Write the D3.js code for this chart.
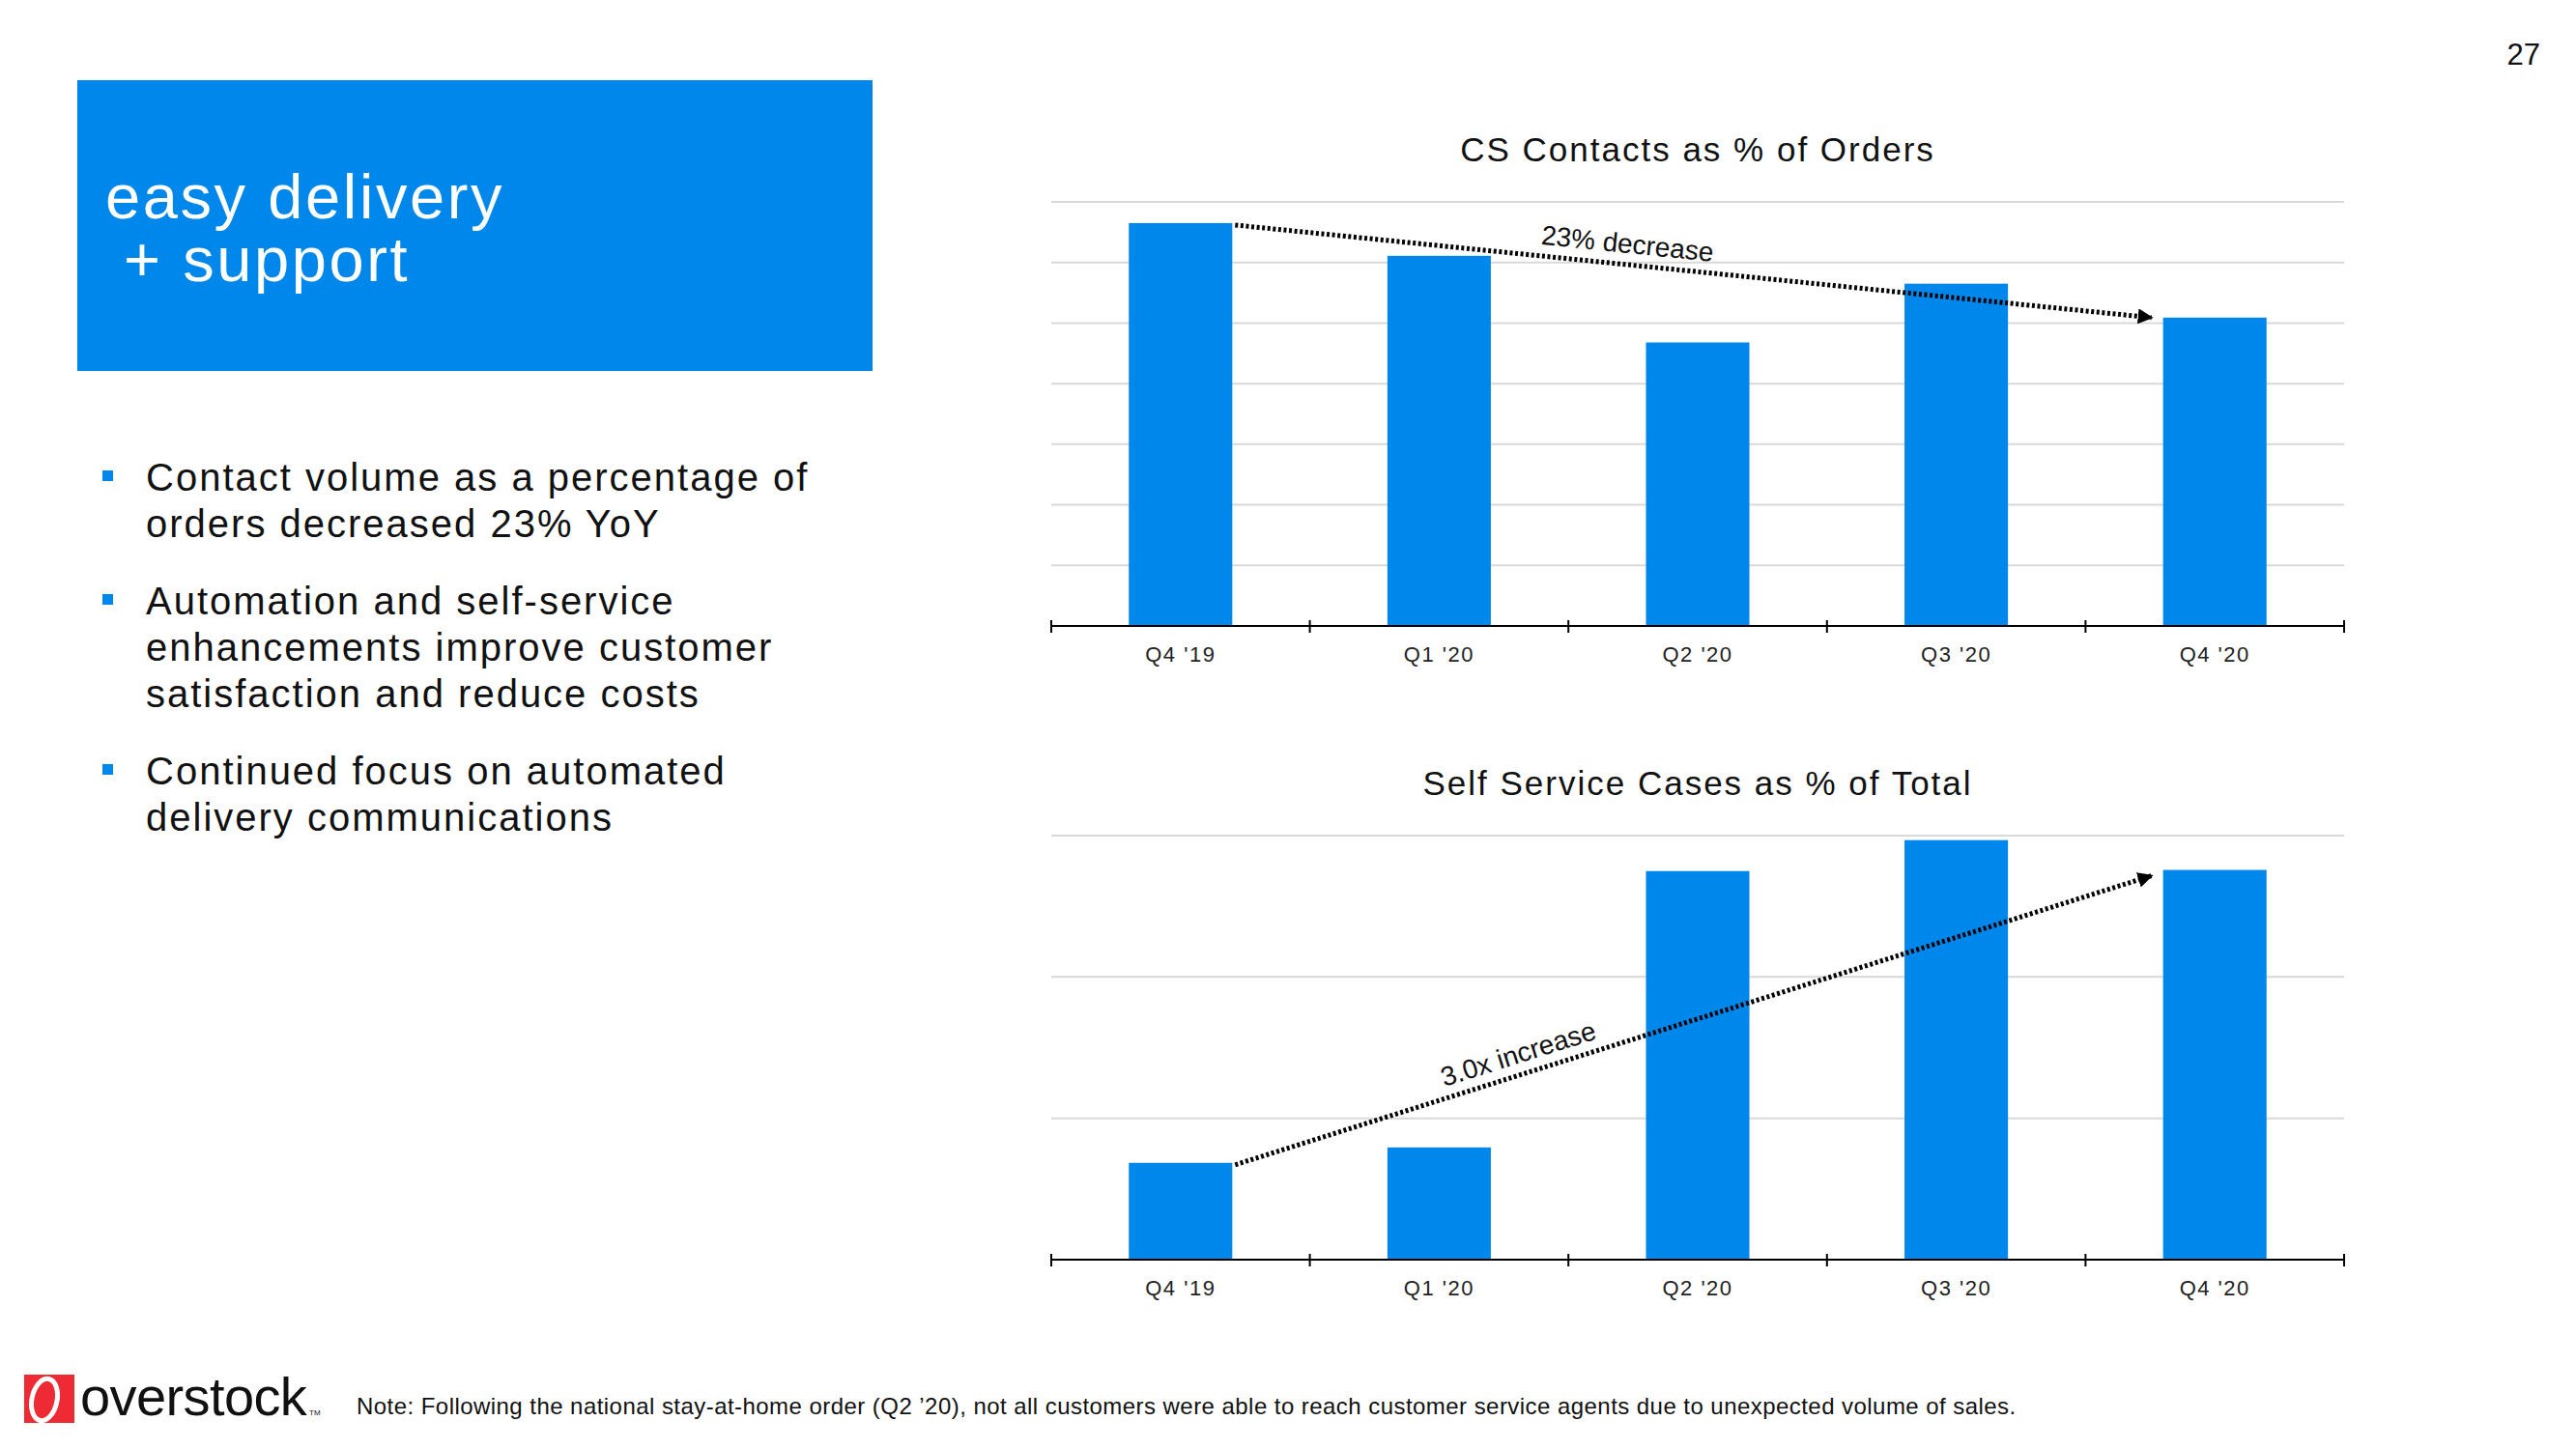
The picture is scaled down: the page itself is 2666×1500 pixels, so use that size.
<!DOCTYPE html>
<html><head><meta charset="utf-8">
<script src="https://cdn.jsdelivr.net/npm/d3@7"></script>
<style>
body{margin:0;background:#fff}
svg{display:block}
text{font-family:"Liberation Sans",Arial,Helvetica,sans-serif}
</style>
</head><body>
<svg id="c" width="2666" height="1500"></svg>
<script>
// ---- data ----
const categories = ["Q4 '19", "Q1 '20", "Q2 '20", "Q3 '20", "Q4 '20"];
const csContacts = [6.65, 6.11, 4.68, 5.65, 5.09];
const selfService = [0.685, 0.794, 2.749, 2.968, 2.757];
const csGridTicks = [1, 2, 3, 4, 5, 6, 7];
const ssGridTicks = [1, 2, 3];
const csTitle = "CS Contacts as % of Orders";
const ssTitle = "Self Service Cases as % of Total";
const csArrowLabel = "23% decrease";
const ssArrowLabel = "3.0x increase";
const headline = ["easy delivery", "+ support"];
const bullets = [
  ["Contact volume as a percentage of", "orders decreased 23% YoY"],
  ["Automation and self-service", "enhancements improve customer", "satisfaction and reduce costs"],
  ["Continued focus on automated", "delivery communications"]
];
const note = "Note: Following the national stay-at-home order (Q2 \u201920), not all customers were able to reach customer service agents due to unexpected volume of sales.";
const pageNumber = "27";
const logoText = "overstock";

// ---- styles ----
const BLUE = "#0087EB";
const svg = d3.select("#c");

// page number
svg.append("text").attr("x", 2629).attr("y", 67).attr("text-anchor", "end")
  .attr("font-size", 31).attr("fill", "#111").text(pageNumber);

// headline box
svg.append("rect").attr("x", 80).attr("y", 83).attr("width", 823).attr("height", 301).attr("fill", BLUE);
const ht = svg.append("text").attr("font-size", 65).attr("letter-spacing", 2.6).attr("fill", "#fff");
ht.append("tspan").attr("x", 109).attr("y", 226).text(headline[0]);
ht.append("tspan").attr("x", 128).attr("y", 291).text(headline[1]);

// bullets
let by = 508;
bullets.forEach(lines => {
  svg.append("rect").attr("x", 106).attr("y", by - 21).attr("width", 11).attr("height", 11).attr("fill", BLUE);
  const t = svg.append("text").attr("font-size", 40).attr("letter-spacing", 2).attr("fill", "#111");
  lines.forEach((ln, i) => {
    t.append("tspan").attr("x", 151).attr("y", by + i * 48).text(ln);
  });
  by += (lines.length - 1) * 48 + 80;
});

// ---- charts ----
const xLeft = 1088, xRight = 2426;
const x = d3.scaleBand().domain(categories).range([xLeft, xRight]).paddingInner(0.6).paddingOuter(0.3);

function drawChart(cfg) {
  const g = svg.append("g");
  const y = d3.scaleLinear().domain(cfg.domain).range([cfg.bottom, cfg.top]);
  // title
  g.append("text").attr("x", (xLeft + xRight) / 2).attr("y", cfg.titleY).attr("text-anchor", "middle")
    .attr("font-size", 35).attr("letter-spacing", 2).attr("fill", "#111").text(cfg.title);
  // gridlines
  g.selectAll("line.grid").data(cfg.grid).join("line").attr("class", "grid")
    .attr("x1", xLeft).attr("x2", xRight).attr("y1", d => y(d)).attr("y2", d => y(d))
    .attr("stroke", "#d9d9d9").attr("stroke-width", 2);
  // bars
  g.selectAll("rect.bar").data(cfg.values).join("rect").attr("class", "bar")
    .attr("x", (d, i) => x(categories[i])).attr("width", x.bandwidth())
    .attr("y", d => y(d)).attr("height", d => y(0) - y(d)).attr("fill", BLUE);
  // axis labels
  const ax = g.append("g").attr("transform", `translate(0,${y(0)})`)
    .call(d3.axisBottom(x).tickSize(0).tickPadding(21));
  ax.select(".domain").remove();
  ax.selectAll("text").attr("font-size", 22).attr("letter-spacing", 1.5).attr("fill", "#222")
    .attr("font-family", "Liberation Sans, Arial, sans-serif");
  // axis line and boundary ticks
  g.append("line").attr("x1", xLeft).attr("x2", xRight).attr("y1", y(0)).attr("y2", y(0))
    .attr("stroke", "#000").attr("stroke-width", 2.2);
  g.selectAll("line.tk").data(d3.range(categories.length + 1)).join("line").attr("class", "tk")
    .attr("x1", i => xLeft + i * x.step()).attr("x2", i => xLeft + i * x.step())
    .attr("y1", y(0) - 6).attr("y2", y(0) + 7).attr("stroke", "#000").attr("stroke-width", 2);
  // trend arrow
  const n = categories.length - 1;
  const x1 = x(categories[0]) + x.bandwidth() + 3, y1 = y(cfg.values[0]) + 2;
  const x2 = x(categories[n]) - 10, y2 = y(cfg.values[n]) + cfg.endOffset;
  const id = "arr" + cfg.key;
  svg.append("defs").append("marker").attr("id", id).attr("markerUnits", "userSpaceOnUse")
    .attr("viewBox", "0 0 16 16").attr("refX", 14).attr("refY", 8)
    .attr("markerWidth", 16).attr("markerHeight", 16).attr("orient", "auto")
    .append("path").attr("d", "M0,0 L16,8 L0,16 Z").attr("fill", "#000");
  g.append("line").attr("x1", x1).attr("y1", y1).attr("x2", x2 - 2).attr("y2", y2)
    .attr("stroke", "#000").attr("stroke-width", 5).attr("stroke-dasharray", "3 2.6")
    .attr("marker-end", `url(#${id})`);
  const ang = Math.atan2(y2 - y1, x2 - x1) * 180 / Math.PI;
  const px = x1 + (x2 - x1) * cfg.labelT, py = y1 + (y2 - y1) * cfg.labelT;
  g.append("text").attr("transform", `translate(${px},${py}) rotate(${ang})`)
    .attr("x", 0).attr("y", -12).attr("text-anchor", "middle").attr("font-size", 28)
    .attr("fill", "#111").text(cfg.label);
}

drawChart({key: "cs", title: csTitle, titleY: 167, values: csContacts, domain: [0, 7], grid: csGridTicks,
  top: 209, bottom: 648, label: csArrowLabel, labelT: 0.425, endOffset: 0});
drawChart({key: "ss", title: ssTitle, titleY: 823, values: selfService, domain: [0, 3], grid: ssGridTicks,
  top: 865, bottom: 1304, label: ssArrowLabel, labelT: 0.315, endOffset: 6});

// ---- footer ----
const logo = svg.append("g");
logo.append("rect").attr("x", 25).attr("y", 1423).attr("width", 52).attr("height", 50).attr("fill", "#EE2A35");
logo.append("ellipse").attr("cx", 46).attr("cy", 1449).attr("rx", 13).attr("ry", 22)
  .attr("transform", "rotate(12 46 1449)").attr("fill", "none").attr("stroke", "#fff").attr("stroke-width", 5);
logo.append("text").attr("x", 83).attr("y", 1465).attr("font-size", 56).attr("letter-spacing", -0.6)
  .attr("fill", "#111").text(logoText);
logo.append("text").attr("x", 320).attr("y", 1465).attr("font-size", 8).attr("fill", "#111").text("TM");
svg.append("text").attr("x", 369).attr("y", 1464).attr("font-size", 24).attr("letter-spacing", 0.45)
  .attr("fill", "#111").text(note);
</script>
</body></html>
